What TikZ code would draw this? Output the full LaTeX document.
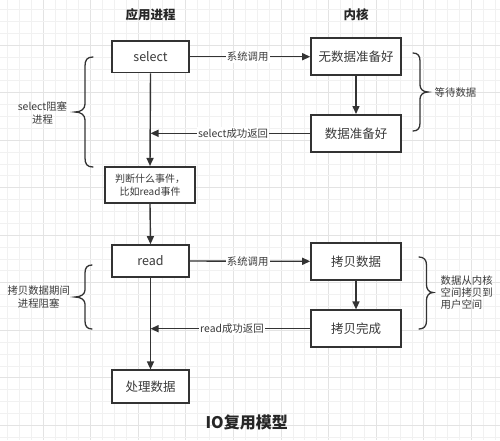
\documentclass[tikz,border=0pt]{standalone}
\usepackage{fontspec}
\setmainfont{Noto Sans CJK SC}
\usetikzlibrary{arrows.meta}
\definecolor{ink}{HTML}{333333}
\definecolor{txt}{HTML}{3A3A3A}
\definecolor{gridminor}{HTML}{F1F1F1}
\definecolor{gridmajor}{HTML}{E3E3E3}
\begin{document}
\begin{tikzpicture}[x=1pt,y=-1pt,
  box/.style={draw=ink, line width=1.6pt, fill=white, inner sep=0pt, text=txt,
    font=\fontsize{12.5}{15}\selectfont},
  appbox/.style={box, minimum width=77.5pt, minimum height=31.5pt},
  kbox/.style={box, minimum width=90pt, minimum height=37pt},
  conn/.style={draw=ink, line width=1.4pt, -{Triangle[length=8pt,width=7pt]}},
  plain/.style={draw=ink, line width=1.4pt},
  lbl/.style={fill=white, inner sep=1pt, text=txt, font=\fontsize{10.4}{12}\selectfont},
  side/.style={text=txt, font=\fontsize{10.4}{12.3}\selectfont, inner sep=0pt},
  brace/.style={draw=ink, line width=1.3pt, line cap=round},
  head/.style={text=black!85, font=\bfseries\fontsize{12.5}{15}\selectfont},
]
\useasboundingbox (0,0) rectangle (500,440);
\fill[white] (0,0) rectangle (500,440);
% grid
\foreach \i in {0,...,41} {
  \pgfmathtruncatemacro{\m}{mod(\i+1,4)}
  \ifnum\m=0
    \draw[gridmajor, line width=0.8pt] ({7.3+\i*11.9},0) -- ({7.3+\i*11.9},440);
  \else
    \draw[gridminor, line width=0.8pt] ({7.3+\i*11.9},0) -- ({7.3+\i*11.9},440);
  \fi
}
\foreach \j in {0,...,36} {
  \pgfmathtruncatemacro{\m}{mod(\j+1,4)}
  \ifnum\m=0
    \draw[gridmajor, line width=0.8pt] (0,{9.5+\j*11.88}) -- (500,{9.5+\j*11.88});
  \else
    \draw[gridminor, line width=0.8pt] (0,{9.5+\j*11.88}) -- (500,{9.5+\j*11.88});
  \fi
}

% headings
\node[head] (happ) at (150.5,15) {应用进程};
\node[head] (hker) at (356,15) {内核};
\node[text=black!85, font=\bfseries\fontsize{16}{19}\selectfont] (title) at (246.7,422) {IO复用模型};

% boxes
\node[appbox] (select) at (150.5,56.7) {select};
\node[kbox] (nodata) at (356,56.7) {无数据准备好};
\node[kbox] (ready) at (356,133.3) {数据准备好};
\node[box, minimum width=90pt, minimum height=36.5pt, align=center,
      font=\fontsize{10}{12.7}\selectfont] (judge) at (150,185) {判断什么事件，\\比如read事件};
\node[appbox, minimum height=32pt] (read) at (150.5,261) {read};
\node[kbox] (copy) at (356,261.3) {拷贝数据};
\node[kbox] (copydone) at (356,328.7) {拷贝完成};
\node[appbox, minimum height=33pt] (process) at (150.5,386.7) {处理数据};

% connectors
\draw[conn] (select.east) -- node[lbl, pos=0.48] (l1) {系统调用} (nodata.west);
\draw[conn] (nodata.south) -- (ready.north);
\coordinate (r1) at (ready.west -| select.south);
\draw[conn] (ready.west) -- node[lbl, pos=0.483] (l2) {select成功返回} (r1);
\draw[conn] (select.south) -- (judge.north);
\draw[conn] (judge.south) -- (read.north);
\draw[conn] (read.east) -- node[lbl, pos=0.48] (l3) {系统调用} (copy.west);
\draw[conn] (copy.south) -- (copydone.north);
\coordinate (r2) at (copydone.west -| read.south);
\draw[conn] (copydone.west) -- node[lbl, pos=0.49] (l4) {read成功返回} (r2);
\draw[conn] (read.south) -- (process.north);

% braces
\draw[brace] (93,57) .. controls (87,57) and (85,60) .. (85,66) -- (85,104)
  .. controls (85,109) and (81,112) .. (75,112) .. controls (81,112) and (85,115) .. (85,120)
  -- (85,158) .. controls (85,164) and (87,167) .. (93,167);
\node[side, align=center] (b1) at (42.5,113) {select阻塞\\进程};

\draw[brace] (92,265) .. controls (87,265) and (85,268) .. (85,273) -- (85,290)
  .. controls (85,294) and (81,297) .. (75,297) .. controls (81,297) and (85,300) .. (85,304)
  -- (85,321) .. controls (85,326) and (87,329) .. (92,329);
\node[side, align=center] (b2) at (38.7,297) {拷贝数据期间\\进程阻塞};

\draw[brace] (413,53) .. controls (418,53) and (420,56) .. (420,61) -- (420,85)
  .. controls (420,89) and (423,92) .. (428,92) .. controls (423,92) and (420,95) .. (420,99)
  -- (420,123) .. controls (420,128) and (418,131) .. (413,131);
\node[side, anchor=west] (b3) at (434.5,93) {等待数据};

\draw[brace] (419,257) .. controls (424,257) and (426.5,260) .. (426.5,265) -- (426.5,285)
  .. controls (426.5,289) and (429,292.5) .. (433,292.5) .. controls (429,292.5) and (426.5,296) .. (426.5,300)
  -- (426.5,321) .. controls (426.5,326) and (424,329) .. (419,329);
\node[side, align=left, anchor=west, font=\fontsize{10.4}{12}\selectfont] (b4) at (440.5,293) {数据从内核\\空间拷贝到\\用户空间};
\end{tikzpicture}
\end{document}
